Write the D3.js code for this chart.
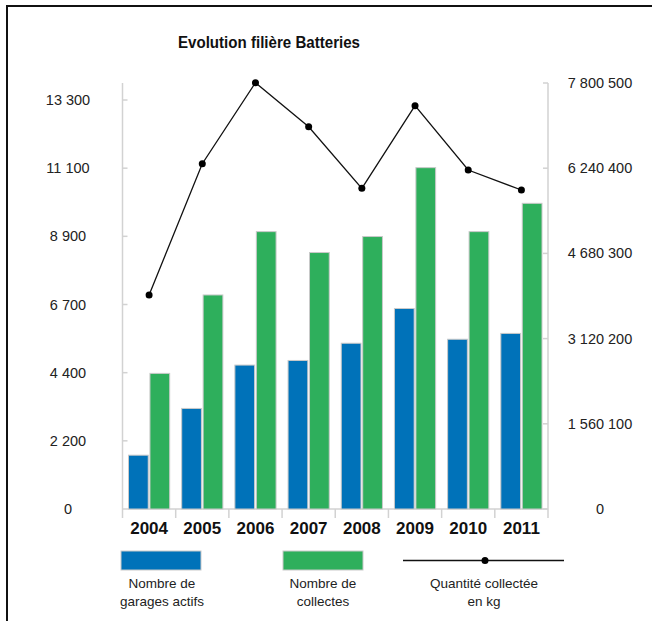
<!DOCTYPE html>
<html>
<head>
<meta charset="utf-8">
<script src="https://cdn.jsdelivr.net/npm/d3@7"></script>
<style>
  html, body { margin: 0; padding: 0; background: #fff; }
  svg { display: block; font-family: "Liberation Sans", Arial, sans-serif; }
</style>
</head>
<body>
<div id="chart"></div>
<script>
// data
const years = ["2004", "2005", "2006", "2007", "2008", "2009", "2010", "2011"];
const garages = [1750, 3270, 4680, 4830, 5390, 6520, 5520, 5710];
const collectes = [4410, 6960, 9020, 8340, 8860, 11100, 9020, 9940];
const quantite = [3918000, 6323000, 7806000, 7000000, 5872000, 7385000, 6207000, 5841000];

const leftTickLabels = ["0", "2 200", "4 400", "6 700", "8 900", "11 100", "13 300"];
const rightTickLabels = ["0", "1 560 100", "3 120 200", "4 680 300", "6 240 400", "7 800 500"];
const leftMax = 13300;
const rightMax = 7800500;

const legendLabels = [
  ["Nombre de", "garages actifs"],
  ["Nombre de", "collectes"],
  ["Quantité collectée", "en kg"]
];

const W = 652, H = 621;
const blue = "#0072b9", green = "#2eaf5c", axisGrey = "#d2d2d2", barStroke = "#c9c9c9";

const svg = d3.select("#chart").append("svg")
  .attr("width", W)
  .attr("height", H);

// frame (only top + left visible in the crop)
svg.append("path")
  .attr("d", "M7,621 V6 H652")
  .attr("fill", "none")
  .attr("stroke", "#111")
  .attr("stroke-width", 2);

// title
svg.append("text")
  .attr("x", 269)
  .attr("y", 48)
  .attr("text-anchor", "middle")
  .attr("textLength", 182)
  .attr("lengthAdjust", "spacingAndGlyphs")
  .style("font-size", "17px")
  .style("font-weight", "bold")
  .attr("fill", "#111")
  .text("Evolution filière Batteries");

// scales
const plotLeft = 122.5, plotRight = 548, baseY = 509;
const x = d3.scaleBand().domain(years).range([plotLeft, plotRight]);
const xSub = d3.scaleBand().domain(["g", "c"])
  .range([6, x.bandwidth() - 6])
  .paddingInner(0.08);
const yL = d3.scaleLinear().domain([0, leftMax]).range([baseY, 100]);
const yR = d3.scaleLinear().domain([0, rightMax]).range([baseY, 83]);

// axes lines
const axes = svg.append("g").attr("stroke", axisGrey).attr("stroke-width", 1.5);
axes.append("line").attr("x1", plotLeft).attr("x2", plotLeft).attr("y1", yR(rightMax)).attr("y2", baseY);
axes.append("line").attr("x1", plotRight).attr("x2", plotRight).attr("y1", yR(rightMax)).attr("y2", baseY + 9);
axes.append("line").attr("x1", plotLeft).attr("x2", plotRight).attr("y1", baseY).attr("y2", baseY);

// left ticks
const leftTicks = d3.range(leftTickLabels.length).map(i => i * leftMax / (leftTickLabels.length - 1));
axes.selectAll(".lt").data(leftTicks.slice(1)).join("line")
  .attr("x1", plotLeft).attr("x2", plotLeft + 5)
  .attr("y1", d => yL(d)).attr("y2", d => yL(d));
svg.selectAll(".ll").data(leftTicks).join("text")
  .attr("x", 68)
  .attr("y", d => yL(d))
  .attr("text-anchor", "middle")
  .attr("dominant-baseline", "central")
  .style("font-size", "14.5px")
  .attr("fill", "#222")
  .text((d, i) => leftTickLabels[i]);

// right ticks
const rightTicks = d3.range(rightTickLabels.length).map(i => i * rightMax / (rightTickLabels.length - 1));
axes.selectAll(".rt").data(rightTicks).join("line")
  .attr("x1", plotRight - 5).attr("x2", plotRight)
  .attr("y1", d => yR(d)).attr("y2", d => yR(d));
svg.selectAll(".rl").data(rightTicks).join("text")
  .attr("x", 600)
  .attr("y", d => yR(d))
  .attr("text-anchor", "middle")
  .attr("dominant-baseline", "central")
  .style("font-size", "14.5px")
  .attr("fill", "#222")
  .text((d, i) => rightTickLabels[i]);

// category separators under the axis
axes.selectAll(".ct").data(years).join("line")
  .attr("x1", d => x(d)).attr("x2", d => x(d))
  .attr("y1", baseY).attr("y2", baseY + 9);

// bars
const groups = svg.selectAll(".yr").data(years).join("g")
  .attr("transform", d => `translate(${x(d)},0)`);
groups.append("rect")
  .attr("x", xSub("g"))
  .attr("width", xSub.bandwidth())
  .attr("y", (d, i) => yL(garages[i]))
  .attr("height", (d, i) => baseY - yL(garages[i]))
  .attr("fill", blue)
  .attr("stroke", barStroke);
groups.append("rect")
  .attr("x", xSub("c"))
  .attr("width", xSub.bandwidth())
  .attr("y", (d, i) => yL(collectes[i]))
  .attr("height", (d, i) => baseY - yL(collectes[i]))
  .attr("fill", green)
  .attr("stroke", barStroke);

// year labels
svg.selectAll(".yl").data(years).join("text")
  .attr("x", d => x(d) + x.bandwidth() / 2)
  .attr("y", 534)
  .attr("text-anchor", "middle")
  .style("font-size", "17px")
  .style("font-weight", "bold")
  .attr("fill", "#111")
  .text(d => d);

// line on right axis
const cx = d => x(d) + x.bandwidth() / 2;
const line = d3.line()
  .x((d, i) => cx(years[i]))
  .y(d => yR(d));
svg.append("path")
  .datum(quantite)
  .attr("d", line)
  .attr("fill", "none")
  .attr("stroke", "#111")
  .attr("stroke-width", 1.3);
svg.selectAll(".pt").data(quantite).join("circle")
  .attr("cx", (d, i) => cx(years[i]))
  .attr("cy", d => yR(d))
  .attr("r", 3.5)
  .attr("fill", "#000");

// legend
const legY = 551;
svg.append("rect").attr("x", 121).attr("y", legY).attr("width", 80).attr("height", 19)
  .attr("fill", blue).attr("stroke", barStroke);
svg.append("rect").attr("x", 283).attr("y", legY).attr("width", 80).attr("height", 19)
  .attr("fill", green).attr("stroke", barStroke);
svg.append("line").attr("x1", 403).attr("x2", 564).attr("y1", 560.5).attr("y2", 560.5)
  .attr("stroke", "#111").attr("stroke-width", 1.3);
svg.append("circle").attr("cx", 485).attr("cy", 560.5).attr("r", 3.5).attr("fill", "#000");

const legCenters = [162, 323, 484];
legendLabels.forEach((lines, k) => {
  const t = svg.append("text")
    .attr("text-anchor", "middle")
    .style("font-size", "13.5px")
    .attr("fill", "#222");
  lines.forEach((s, j) => {
    t.append("tspan").attr("x", legCenters[k]).attr("y", 588 + j * 18).text(s);
  });
});
</script>
</body>
</html>
